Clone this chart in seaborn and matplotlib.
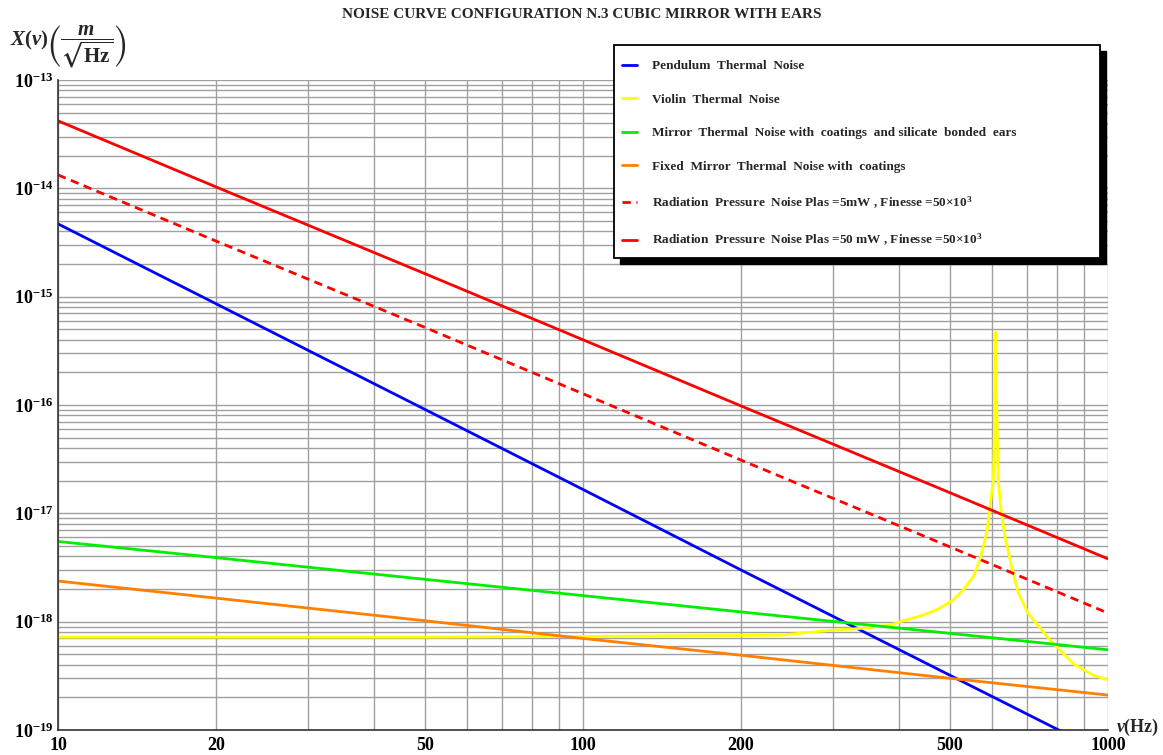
import numpy as np
import pandas as pd
import matplotlib
matplotlib.use("Agg")
import matplotlib.pyplot as plt
import seaborn as sns
from matplotlib.ticker import FixedLocator, FixedFormatter, LogLocator, NullFormatter, LogFormatterMathtext
from matplotlib.patches import Rectangle

# ---------------- data ----------------
freq = [10, 20, 50, 100, 200, 500, 1000]
pendulum = [4.7e-15, 8.6e-16, 9.1e-17, 1.66e-17, 3.0e-18, 3.2e-19, 5.9e-20]
mirror_ears = [5.5e-18, 3.9e-18, 2.46e-18, 1.74e-18, 1.23e-18, 7.8e-19, 5.5e-19]
fixed_mirror = [2.37e-18, 1.65e-18, 1.02e-18, 7.0e-19, 4.9e-19, 3.0e-19, 2.1e-19]
rad_5mw = [1.33e-14, 3.26e-15, 5.2e-16, 1.27e-16, 3.1e-17, 4.9e-18, 1.2e-18]
rad_50mw = [4.2e-14, 1.03e-14, 1.63e-15, 4.0e-16, 9.8e-17, 1.55e-17, 3.8e-18]

violin_freq = [10, 50, 100, 150, 237, 295, 342, 384, 414, 445, 478, 507, 530, 554,
               570, 583, 587.5, 596, 604.6, 609.4, 611, 613.4, 618, 624.6, 636.6,
               655.4, 674.6, 705, 775, 859, 937, 1000]
violin = [7.2e-19, 7.2e-19, 7.3e-19, 7.4e-19, 7.5e-19, 8.3e-19, 8.7e-19, 9.3e-19,
          1.04e-18, 1.15e-18, 1.33e-18, 1.58e-18, 1.96e-18, 2.6e-18,
          3.7e-18, 5.7e-18, 6.6e-18, 1.15e-17, 2.03e-17, 1.1e-16, 4.7e-16, 1.1e-16,
          2.03e-17, 1.15e-17, 6.1e-18,
          3.2e-18, 1.84e-18, 1.19e-18, 6.8e-19, 4.1e-19, 3.2e-19, 2.9e-19]

labels = [
    "Pendulum  Thermal  Noise",
    "Violin  Thermal  Noise",
    "Mirror  Thermal  Noise with  coatings  and silicate  bonded  ears",
    "Fixed  Mirror  Thermal  Noise with  coatings",
    r"Radiation  Pressure  Noise Plas =5mW , Finesse =50$\times$10$^{3}$",
    r"Radiation  Pressure  Noise Plas =50 mW , Finesse =50$\times$10$^{3}$",
]
x_ticks = [10, 20, 50, 100, 200, 500, 1000]
x_tick_labels = ["10", "20", "50", "100", "200", "500", "1000"]
y_ticks = [1e-19, 1e-18, 1e-17, 1e-16, 1e-15, 1e-14, 1e-13]

# ---------------- style ----------------
sns.set_style("white")
plt.rcParams["font.family"] = ["Liberation Serif", "DejaVu Serif"]
plt.rcParams["font.weight"] = "bold"
plt.rcParams["mathtext.fontset"] = "custom"
plt.rcParams["mathtext.rm"] = "Liberation Serif:bold"
plt.rcParams["mathtext.it"] = "Liberation Serif:italic:bold"
plt.rcParams["mathtext.bf"] = "Liberation Serif:bold"
plt.rcParams["mathtext.fallback"] = "stix"

W, H = 1163, 755
fig = plt.figure(figsize=(W / 100, H / 100), dpi=100)
ax = fig.add_axes([58 / W, 1 - 730 / H, 1050 / W, 650 / H])

lw = 2.0
sns.lineplot(x=freq, y=pendulum, ax=ax, color="#0000ff", lw=lw, label=labels[0])
sns.lineplot(x=violin_freq, y=violin, ax=ax, color="#ffff00", lw=lw, label=labels[1], sort=False)
sns.lineplot(x=freq, y=mirror_ears, ax=ax, color="#00ee00", lw=lw, label=labels[2])
sns.lineplot(x=freq, y=fixed_mirror, ax=ax, color="#ff8000", lw=lw, label=labels[3])
sns.lineplot(x=freq, y=rad_5mw, ax=ax, color="#ff0000", lw=lw, label=labels[4])
sns.lineplot(x=freq, y=rad_50mw, ax=ax, color="#ff0000", lw=lw, label=labels[5])
ax.lines[4].set_linestyle((0, (3, 2)))

ax.set_xscale("log")
ax.set_yscale("log")
ax.set_xlim(10, 1000)
ax.set_ylim(1e-19, 1e-13)

ax.xaxis.set_major_locator(FixedLocator(x_ticks))
ax.xaxis.set_major_formatter(FixedFormatter(x_tick_labels))
ax.xaxis.set_minor_locator(LogLocator(base=10, subs=np.arange(1, 10)))
ax.xaxis.set_minor_formatter(NullFormatter())
ax.yaxis.set_major_locator(FixedLocator(y_ticks))
ax.yaxis.set_major_formatter(LogFormatterMathtext())
ax.yaxis.set_minor_locator(LogLocator(base=10, subs=np.arange(2, 10), numticks=20))
ax.yaxis.set_minor_formatter(NullFormatter())

ax.grid(True, which="both", color="#a0a0a0", lw=1.0)
ax.set_axisbelow(True)
for s in ["top", "right"]:
    ax.spines[s].set_visible(False)
for s in ["left", "bottom"]:
    ax.spines[s].set_color("#333333")
    ax.spines[s].set_linewidth(1.2)
ax.tick_params(axis="both", which="major", labelsize=13, length=3, direction="in", colors="#333333",
               labelcolor="black")
ax.tick_params(axis="both", which="minor", length=2, direction="in", colors="#333333")
ax.tick_params(axis="x", pad=5)
ax.tick_params(axis="y", pad=3)
ax.set_xlabel("")
ax.set_ylabel("")

# legend (frame + black shadow drawn as rectangles)
handles, labs = ax.get_legend_handles_labels()
ax.get_legend().remove()
bx0, by_top, bw, bh = 614, 45, 486, 213
shadow = Rectangle(((bx0 + 6) / W, 1 - (by_top + bh + 6) / H), bw / W, bh / H,
                   transform=fig.transFigure, facecolor="black", edgecolor="black", zorder=5)
frame = Rectangle((bx0 / W, 1 - (by_top + bh) / H), bw / W, bh / H,
                  transform=fig.transFigure, facecolor="white", edgecolor="black", lw=1.3, zorder=5.5)
fig.patches.extend([shadow, frame])
leg = fig.legend(handles, labs, loc="upper left", bbox_to_anchor=(622 / W, 1 - 60 / H),
                 bbox_transform=fig.transFigure, frameon=False, fontsize=9.5,
                 handlelength=1.1, handletextpad=1.2, labelspacing=1.62, borderpad=0,
                 borderaxespad=0)
leg.set_zorder(6)

# titles / labels
fig.text(0.5, 1 - 14 / H, "NOISE CURVE CONFIGURATION N.3 CUBIC MIRROR WITH EARS",
         ha="center", va="center", fontsize=11, fontweight="bold")
fig.text(10 / W, 1 - 47 / H, r"$X(\nu)\left(\dfrac{m}{\sqrt{\mathrm{Hz}}}\right)$",
         ha="left", va="center", fontsize=15)
fig.text(1116 / W, 1 - 727 / H, r"$\nu$(Hz)", ha="left", va="center", fontsize=13)

fig.savefig("out.png", dpi=100)
